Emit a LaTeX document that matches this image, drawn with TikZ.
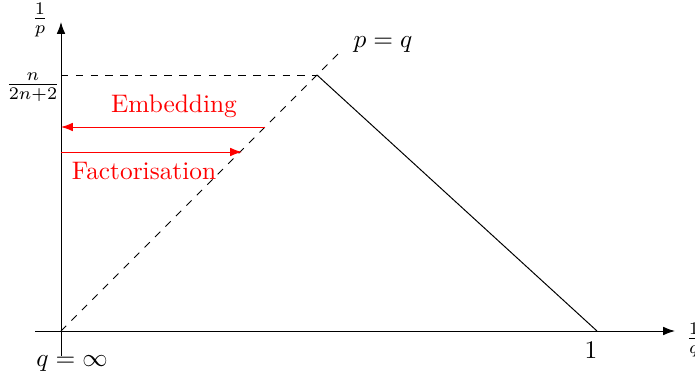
\documentclass[tikz,border=0pt]{standalone}
\usetikzlibrary{arrows.meta}
\begin{document}
\begin{tikzpicture}[x=0.406pt,y=-0.406pt,
  axis/.style={-{Latex[length=4.8pt,width=3.5pt]}, line width=0.4pt},
  redarrow/.style={-{Latex[length=4.8pt,width=3.5pt]}, red, line width=0.4pt},
  redlabel/.style={text=red, inner sep=1pt, scale=1.03},
  plainlabel/.style={inner sep=1pt, scale=1.03}]
\useasboundingbox (0,0) rectangle (695,381);
\coordinate (O) at (61,331);
\coordinate (xs) at (35,331);
\coordinate (xe) at (675,331);
\coordinate (ys) at (61,356);
\coordinate (ye) at (61,22);
\coordinate (P) at (317,75);
\coordinate (Y) at (61,75);
\coordinate (D) at (343,49);
\coordinate (One) at (597,331);
\coordinate (E1) at (265,127);
\coordinate (E2) at (61,127);
\coordinate (F1) at (61,152);
\coordinate (F2) at (242,152);
\draw[axis] (xs) -- (xe);
\draw[axis] (ys) -- (ye);
\draw[dashed, line width=0.4pt] (O) -- (D);
\draw[dashed, line width=0.4pt] (Y) -- (P);
\draw[line width=0.4pt] (P) -- (One);
\draw[redarrow] (E1) -- (E2);
\draw[redarrow] (F1) -- (F2);
\node[plainlabel] (lp) at (40,20) {$\frac{1}{p}$};
\node[plainlabel] (lq) at (694,340) {$\frac{1}{q}$};
\node[plainlabel] (ln) at (33,87) {$\frac{n}{2n+2}$};
\node[plainlabel] (linf) at (72,364) {$q=\infty$};
\node[plainlabel] (l1) at (591,350) {$1$};
\node[plainlabel] (lpq) at (383,45) {$p=q$};
\node[redlabel] (le) at (174,106) {Embedding};
\node[redlabel] (lf) at (144,171) {Factorisation};
\end{tikzpicture}
\end{document}
